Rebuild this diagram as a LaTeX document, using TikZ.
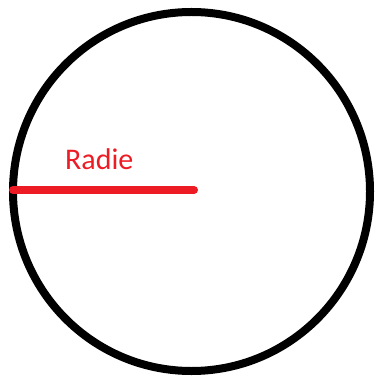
\documentclass[tikz,border=0pt]{standalone}
\usepackage{fontspec}
\setmainfont{Carlito}
\definecolor{paintred}{RGB}{237,28,36}
\begin{document}
\begin{tikzpicture}[x=1pt,y=-1pt,
  rim/.style={draw=black,line width=8pt},
  radius line/.style={draw=paintred,line width=8pt,line cap=round},
  lbl/.style={text=paintred,font=\fontsize{30}{30}\selectfont,inner sep=0pt,anchor=base west}]
\useasboundingbox (0,0) rectangle (377,379);
\coordinate (c) at (191.5,191.5);
\draw[rim] (c) ellipse [x radius=178.5, y radius=179.5];
\coordinate (left) at (13,190);
\coordinate (mid) at (194,190);
\draw[radius line] (left) -- (mid);
\node[lbl] (radie) at (65,169) {Radie};
\end{tikzpicture}
\end{document}
